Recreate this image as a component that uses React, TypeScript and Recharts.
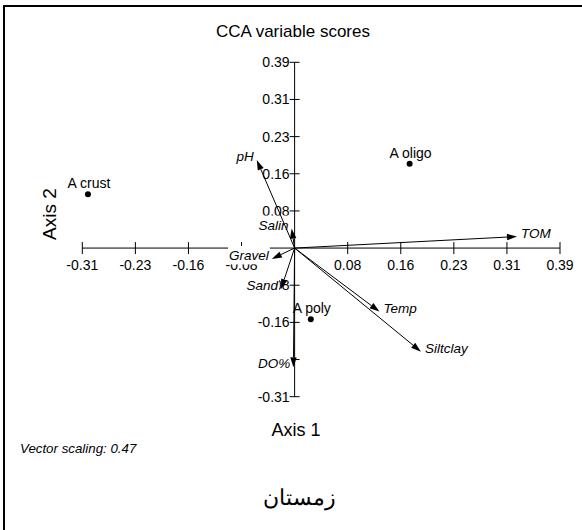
import React from 'react';
import { ScatterChart, Scatter, XAxis, YAxis, ReferenceLine } from 'recharts';

// axis range and tick values (labels shown with 2 decimals)
const AXIS_MIN = -0.312;
const AXIS_MAX = 0.39;
const X_TICKS = [-0.312, -0.234, -0.156, -0.078, 0.078, 0.156, 0.234, 0.312, 0.39];
const Y_TICKS = [-0.312, -0.234, -0.156, -0.078, 0.078, 0.156, 0.234, 0.312, 0.39];

// environmental variable vectors
const VARIABLES = ['pH', 'Salin', 'Gravel', 'Sand', 'DO%', 'Temp', 'Siltclay', 'TOM'];
const VAR_AXIS1 = [-0.0556, -0.0044, -0.0335, -0.0199, -0.0018, 0.1247, 0.1856, 0.3268];
const VAR_AXIS2 = [0.185, 0.041, -0.0227, -0.0857, -0.2504, -0.1334, -0.2174, 0.0242];

// species scores
const SPECIES = ['A crust', 'A oligo', 'A poly'];
const SP_AXIS1 = [-0.3037, 0.169, 0.0238];
const SP_AXIS2 = [0.113, 0.177, -0.1496];

const FONT = "'Liberation Sans', Arial, sans-serif";
const LABEL_SIZE = 13.5;
const LABEL_FONT = `italic ${LABEL_SIZE}px ${FONT}`;

let canvasCtx: CanvasRenderingContext2D | null = null;
const measure = (s: string) => {
  if (!canvasCtx) canvasCtx = document.createElement('canvas').getContext('2d');
  if (!canvasCtx) return s.length * 7;
  canvasCtx.font = LABEL_FONT;
  return canvasCtx.measureText(s).width;
};

const fmt = (v: number) => v.toFixed(2);

const xTickShape = (v: number) => (p: any) => (
  <g>
    <line x1={p.x1} y1={p.y1 - 6} x2={p.x1} y2={p.y1 + 6} stroke="#000" />
    <text x={p.x1} y={p.y1 + 22} textAnchor="middle" fontSize={14} fill="#000">{fmt(v)}</text>
  </g>
);

const yTickShape = (v: number) => (p: any) => (
  <g>
    <line x1={p.x1 - 5} y1={p.y1} x2={p.x1 + 5} y2={p.y1} stroke="#000" />
    <text x={p.x1 - 5} y={p.y1 + 5} textAnchor="end" fontSize={14} fill="#000">{fmt(v)}</text>
  </g>
);

// label of a vector, with a white box behind it
const labelShape = (name: string, vx: number) => (p: any) => {
  const right = vx > 0;
  const tx = right ? p.x2 + 4 : p.x2 - 3;
  const ty = p.y2 + 1;
  const w = measure(name);
  const rx = right ? tx : tx - w;
  return (
    <g>
      <rect x={rx - 1} y={ty - 14} width={w + 2} height={18.5} fill="#fff" />
      <text x={tx} y={ty} textAnchor={right ? 'start' : 'end'} fontSize={LABEL_SIZE} fontStyle="italic" fill="#000">
        {name}
      </text>
    </g>
  );
};

const arrowShape = (p: any) => {
  const { x1, y1, x2, y2 } = p;
  const ang = Math.atan2(y2 - y1, x2 - x1);
  const L = 10;
  const W = 3.2;
  const bx = x2 - L * Math.cos(ang);
  const by = y2 - L * Math.sin(ang);
  const px = -Math.sin(ang) * W;
  const py = Math.cos(ang) * W;
  return (
    <g>
      <line x1={x1} y1={y1} x2={bx} y2={by} stroke="#000" strokeWidth={1} />
      <polygon points={`${x2},${y2} ${bx + px},${by + py} ${bx - px},${by - py}`} fill="#000" />
    </g>
  );
};

const speciesShape = (p: any) => (
  <g>
    <circle cx={p.cx} cy={p.cy} r={3} fill="#000" />
    <text x={p.cx + 1} y={p.cy - 6} textAnchor="middle" fontSize={14} fill="#000">{p.payload.name}</text>
  </g>
);

export default function App() {
  const speciesData = SPECIES.map((name, i) => ({ name, x: SP_AXIS1[i], y: SP_AXIS2[i] }));

  return (
    <div style={{ position: 'absolute', left: 0, top: 0, width: 582, height: 530, fontFamily: FONT, background: '#fff' }}>
      <ScatterChart width={582} height={530} margin={{ top: 62.3, right: 22, bottom: 133.3, left: 82.3 }}>
        <XAxis type="number" dataKey="x" domain={[AXIS_MIN, AXIS_MAX]} hide />
        <YAxis type="number" dataKey="y" domain={[AXIS_MIN, AXIS_MAX]} hide />

        <g>
          <line x1={4} y1={6} x2={582} y2={6} stroke="#000" strokeWidth={2} />
          <line x1={4} y1={5} x2={4} y2={530} stroke="#000" strokeWidth={2} />
          <text x={293} y={37} textAnchor="middle" fontSize={17} fill="#000">CCA variable scores</text>
          <text transform="translate(56,214) rotate(-90)" textAnchor="middle" fontSize={19} fill="#000">Axis 2</text>
          <text x={296} y={436} textAnchor="middle" fontSize={18} fill="#000">Axis 1</text>
          <text x={20} y={453} fontSize={13.3} fontStyle="italic" fill="#000">Vector scaling: 0.47</text>
          <text x={299} y={505} textAnchor="middle" fontSize={22} fill="#000" style={{ fontFamily: "'Times New Roman', serif" }}>
            زمستان
          </text>
        </g>

        <ReferenceLine y={0} stroke="#000" strokeWidth={1} />
        <ReferenceLine x={0} stroke="#000" strokeWidth={1} />

        {X_TICKS.map((v) => (
          <ReferenceLine key={`xt${v}`} segment={[{ x: v, y: 0 }, { x: v, y: 0 }]} shape={xTickShape(v)} />
        ))}
        {Y_TICKS.map((v) => (
          <ReferenceLine key={`yt${v}`} segment={[{ x: 0, y: v }, { x: 0, y: v }]} shape={yTickShape(v)} />
        ))}

        {VARIABLES.map((name, i) => (
          <ReferenceLine
            key={`lb${name}`}
            segment={[{ x: 0, y: 0 }, { x: VAR_AXIS1[i], y: VAR_AXIS2[i] }]}
            shape={labelShape(name, VAR_AXIS1[i])}
          />
        ))}
        {VARIABLES.map((name, i) => (
          <ReferenceLine
            key={`ar${name}`}
            segment={[{ x: 0, y: 0 }, { x: VAR_AXIS1[i], y: VAR_AXIS2[i] }]}
            shape={arrowShape}
          />
        ))}

        <Scatter data={speciesData} shape={speciesShape} isAnimationActive={false} />
      </ScatterChart>
    </div>
  );
}
